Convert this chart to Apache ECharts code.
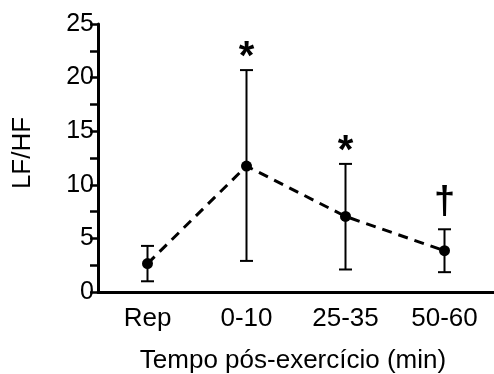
<!DOCTYPE html>
<html><head><meta charset="utf-8">
<script src="https://cdn.jsdelivr.net/npm/echarts@6/dist/echarts.min.js"></script>
<style>html,body{margin:0;padding:0;background:#fff}#c{width:494px;height:374px}</style>
</head><body><div id="c"></div>
<script>
var categories = ['Rep', '0-10', '25-35', '50-60'];
var means = [2.65, 11.75, 7.05, 3.85];
var upper = [4.3, 20.7, 11.95, 5.85];
var lower = [1.0, 2.9, 2.1, 1.85];
var marks = ['', '*', '*', '†'];
var yTicks = [0, 5, 10, 15, 20, 25];

var chart = echarts.init(document.getElementById('c'), null, {renderer: 'canvas'});
var font = 'Liberation Sans, Arial, sans-serif';
chart.setOption({
  animation: false,
  backgroundColor: '#fff',
  grid: {left: 98, right: -4, top: 24, bottom: 82},
  xAxis: {
    type: 'category', data: categories, boundaryGap: true,
    axisLine: {lineStyle: {color: '#000', width: 3}},
    axisTick: {alignWithLabel: true, length: 9, lineStyle: {width: 3, color: '#000'}},
    axisLabel: {color: '#000', fontSize: 26, fontFamily: font, margin: 14}
  },
  yAxis: {
    type: 'value', min: 0, max: 25, interval: 5,
    axisLine: {show: true, lineStyle: {color: '#000', width: 3}},
    axisTick: {show: true, length: 8, lineStyle: {width: 2.5, color: '#000'}},
    minorTick: {show: true, splitNumber: 2, length: 8, lineStyle: {width: 2.5, color: '#000'}},
    splitLine: {show: false},
    axisLabel: {color: '#000', fontSize: 25, fontFamily: font, margin: 4,
      formatter: function (v) { return yTicks.indexOf(v) >= 0 ? String(v) : ''; }}
  },
  graphic: [
    {type: 'text', x: 293, y: 361, style: {text: 'Tempo pós-exercício (min)', font: '26px ' + font, fill: '#000', textAlign: 'center', textVerticalAlign: 'middle'}},
    {type: 'text', rotation: Math.PI / 2, x: 23, y: 153, style: {text: 'LF/HF', font: '26px ' + font, fill: '#000', textAlign: 'center', textVerticalAlign: 'middle'}}
  ],
  series: [
    {
      type: 'line', data: means, symbol: 'circle', symbolSize: 11,
      itemStyle: {color: '#000'},
      lineStyle: {color: '#000', width: 3, type: [10, 7]},
      z: 3
    },
    {
      type: 'custom',
      data: categories.map(function (c, i) { return [i, lower[i], upper[i]]; }),
      renderItem: function (params, api) {
        var i = api.value(0);
        var lo = api.coord([i, api.value(1)]);
        var hi = api.coord([i, api.value(2)]);
        var w = 6.5;
        var st = {stroke: '#000', lineWidth: 2};
        return {type: 'group', children: [
          {type: 'line', shape: {x1: lo[0], y1: lo[1], x2: hi[0], y2: hi[1]}, style: st},
          {type: 'line', shape: {x1: lo[0] - w, y1: lo[1], x2: lo[0] + w, y2: lo[1]}, style: st},
          {type: 'line', shape: {x1: hi[0] - w, y1: hi[1], x2: hi[0] + w, y2: hi[1]}, style: st}
        ]};
      },
      z: 2
    },
    {
      type: 'custom',
      data: categories.map(function (c, i) { return [i, upper[i]]; }),
      renderItem: function (params, api) {
        var i = api.value(0);
        var p = api.coord([i, api.value(1)]);
        var t = marks[i];
        if (!t) return null;
        var isStar = t === '*';
        return {type: 'text', x: p[0], y: isStar ? p[1] - 12 : p[1] - 27,
          style: {text: t, font: (isStar ? 'bold 40px ' : 'bold 38px ') + font, fill: '#000', textAlign: 'center', textVerticalAlign: 'middle'}};
      },
      z: 4
    }
  ]
});
</script></body></html>
